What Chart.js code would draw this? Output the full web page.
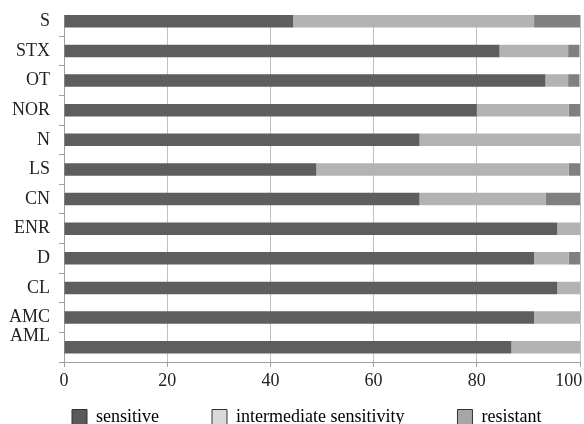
<!DOCTYPE html>
<html>
<head>
<meta charset="utf-8">
<script src="https://cdn.jsdelivr.net/npm/chart.js@4.4.1/dist/chart.umd.min.js"></script>
<style>
  html, body { margin: 0; padding: 0; background: #ffffff; }
  #wrap { width: 584px; height: 424px; position: relative; }
</style>
</head>
<body>
<div id="wrap"><canvas id="c"></canvas></div>
<script>
const categories = ['S', 'STX', 'OT', 'NOR', 'N', 'LS', 'CN', 'ENR', 'D', 'CL', 'AMC', 'AML'];
const sensitive    = [44.4, 84.4, 93.3, 80.0, 68.9, 48.9, 68.9, 95.6, 91.1, 95.6, 91.1, 86.7];
const intermediate = [46.7, 13.3,  4.4, 17.8, 31.1, 48.9, 24.4,  4.4,  6.7,  4.4,  8.9, 13.3];
const resistant    = [ 8.9,  2.2,  2.2,  2.2,  0.0,  2.2,  6.7,  0.0,  2.2,  0.0,  0.0,  0.0];
const seriesNames  = ['sensitive', 'intermediate sensitivity', 'resistant'];
const xTicks = [0, 20, 40, 60, 80, 100];

const barColors    = ['#5e5e5e', '#b3b3b3', '#808080'];
const legendColors = ['#5a5a5a', '#d9d9d9', '#a6a6a6'];
const legendTrail  = [10, 10, 0]; // extra spacing after each legend entry

Chart.defaults.font.family = '"Liberation Serif", "Times New Roman", serif';
Chart.defaults.font.size = 18;
Chart.defaults.color = '#222222';

// plot frame starts at the top edge of the first bar (as in the original figure)
const trimTop = {
  id: 'trimTop',
  beforeDatasetsDraw(chart) {
    const bar = chart.getDatasetMeta(0).data[0];
    if (!bar) return;
    const props = bar.getProps(['y', 'height'], true);
    const edge = Math.round(props.y - props.height / 2);
    const ca = chart.chartArea;
    const ctx = chart.ctx;
    ctx.save();
    ctx.fillStyle = '#ffffff';
    ctx.fillRect(ca.left - 7, 0, ca.right - ca.left + 12, edge);
    ctx.restore();
  }
};

new Chart(document.getElementById('c'), {
  type: 'bar',
  data: {
    labels: categories,
    datasets: [sensitive, intermediate, resistant].map((d, i) => ({
      label: seriesNames[i],
      data: d,
      backgroundColor: barColors[i],
      borderWidth: 0,
      barPercentage: 0.42,
      categoryPercentage: 1.0
    }))
  },
  plugins: [trimTop],
  options: {
    indexAxis: 'y',
    responsive: true,
    maintainAspectRatio: false,
    animation: false,
    layout: { padding: { top: 6.5, left: 0, right: 4, bottom: -12 } },
    plugins: {
      tooltip: { enabled: false },
      legend: {
        position: 'bottom',
        fullSize: false,
        align: 'start',
        labels: {
          boxWidth: 15,
          boxHeight: 15,
          padding: 8,
          color: '#222222',
          font: { size: 18 },
          generateLabels: (chart) => chart.data.datasets.map((ds, i) => ({
            text: ds.label + ' '.repeat(legendTrail[i]),
            fillStyle: legendColors[i],
            strokeStyle: '#333333',
            lineWidth: 1,
            hidden: false,
            datasetIndex: i
          }))
        }
      }
    },
    scales: {
      x: {
        stacked: true,
        min: 0,
        max: 100,
        afterBuildTicks: (scale) => { scale.ticks = xTicks.map(v => ({ value: v })); },
        ticks: {
          padding: 3,
          color: '#222222',
          font: { size: 18 },
          callback: (value) => (value === xTicks[xTicks.length - 1] ? value + '     ' : '' + value)
        },
        grid: { color: '#c0c0c0', lineWidth: 1, tickLength: 5, tickColor: '#a0a0a0' },
        border: { color: '#a0a0a0' },
        afterFit: (scale) => { scale.height = 38; scale.paddingLeft = 0; scale.paddingRight = 0; }
      },
      y: {
        stacked: true,
        ticks: {
          autoSkip: false,
          padding: 9,
          color: '#222222',
          font: { size: 18 },
          callback: function(value, index) {
            const lab = this.getLabelForValue(value);
            return index === categories.length - 1 ? [lab, ''] : lab;
          }
        },
        grid: { drawOnChartArea: false, drawTicks: true, tickLength: 5, offset: true, color: '#a0a0a0' },
        border: { color: '#a0a0a0' },
        afterFit: (scale) => { scale.paddingTop = 0; scale.paddingBottom = 0; }
      }
    }
  }
});
</script>
</body>
</html>
